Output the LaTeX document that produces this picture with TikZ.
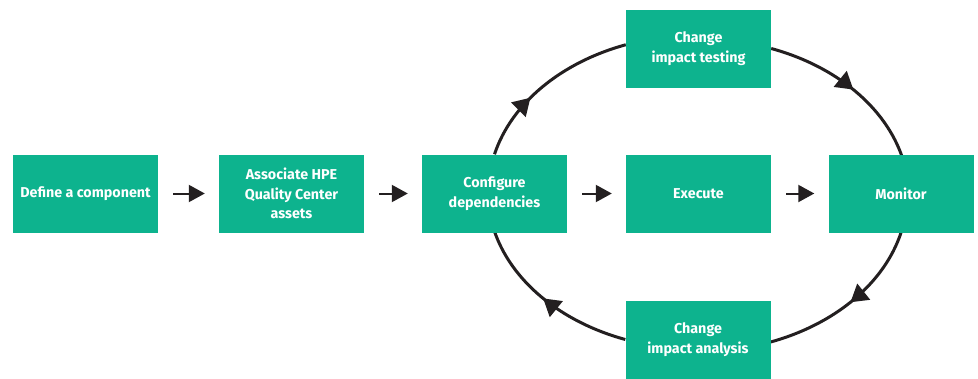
\documentclass[tikz,border=0pt]{standalone}
\usepackage{fontspec}
\setmainfont{Fira Sans}
\usetikzlibrary{arrows.meta,decorations.markings}
\definecolor{hpegreen}{HTML}{0DB38E}
\definecolor{ink}{HTML}{231F20}
\pgfdeclarelayer{background}
\pgfsetlayers{background,main}
\begin{document}
\begin{tikzpicture}[x=1pt,y=1pt,
  box/.style={fill=hpegreen, minimum width=145pt, minimum height=78pt, inner sep=0pt,
    text=white, font=\fontsize{14.3}{19.5}\selectfont\bfseries, align=center},
  flow/.style={ink, line width=2pt, -{Triangle[length=16pt,width=17pt]},
    shorten <=15pt, shorten >=14pt},
  cyclearc/.style={ink, line width=3pt, postaction=decorate,
    decoration={markings, mark=at position #1 with {\arrow{Triangle[length=17pt,width=20pt]}}}}]
\useasboundingbox (0,0) rectangle (978,-378);

\node[box] (define)   at (85.5,-193.5)  {Define a component};
\node[box] (assoc)    at (291.5,-193.5) {Associate HPE\\Quality Center\\assets};
\node[box] (config)   at (494.5,-193.5) {Configure\\dependencies};
\node[box] (execute)  at (698.5,-193.5) {Execute};
\node[box] (monitor)  at (901,-193.5)   {Monitor};
\node[box] (testing)  at (698.5,-48.5)  {Change\\impact testing};
\node[box] (analysis) at (698,-339.5)   {Change\\impact analysis};

\draw[flow] (define) -- (assoc);
\draw[flow] (assoc) -- (config);
\draw[flow] (config) -- (execute);
\draw[flow] (execute) -- (monitor);

\begin{pgfonlayer}{background}
\draw[cyclearc=0.38] (config.north) arc[start angle=166, end angle=110, x radius=209, y radius=157];
\draw[cyclearc=0.52] (testing.east) arc[start angle=70, end angle=14, x radius=209, y radius=157];
\draw[cyclearc=0.49] (monitor.south) arc[start angle=-14, end angle=-70, x radius=209, y radius=157];
\draw[cyclearc=0.52] (analysis.west) arc[start angle=-110, end angle=-166, x radius=209, y radius=157];
\end{pgfonlayer}
\end{tikzpicture}
\end{document}
